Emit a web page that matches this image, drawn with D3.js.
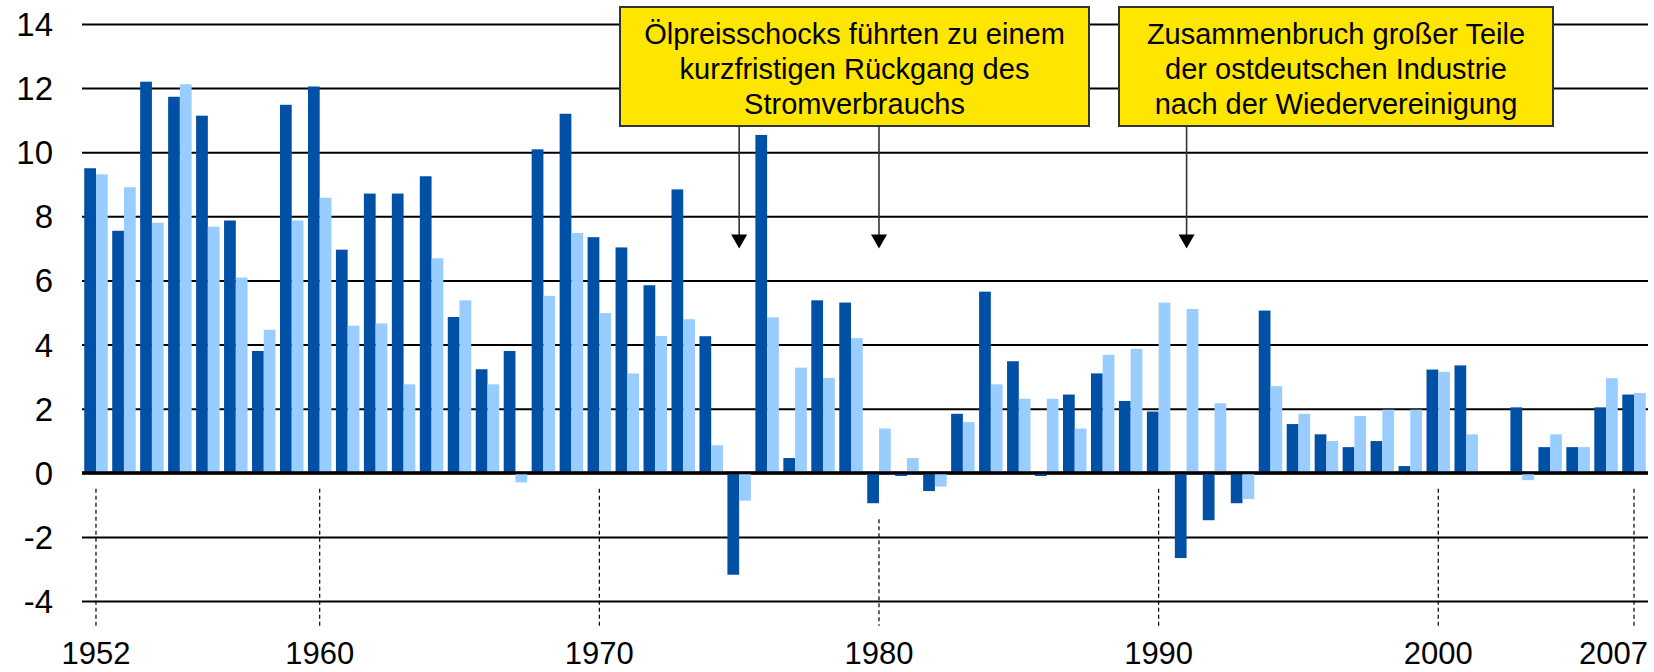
<!DOCTYPE html>
<html>
<head>
<meta charset="utf-8">
<script src="https://cdn.jsdelivr.net/npm/d3@7"></script>
<style>
  html, body { margin: 0; padding: 0; background: #fff; }
  svg { display: block; }
  text { font-family: "Liberation Sans", Arial, sans-serif; fill: #000; }
</style>
</head>
<body>
<svg id="chart" width="1654" height="672"></svg>
<script>
// ---------- DATA ----------
const years = [1952,1953,1954,1955,1956,1957,1958,1959,1960,1961,1962,1963,1964,1965,1966,1967,1968,1969,1970,1971,1972,1973,1974,1975,1976,1977,1978,1979,1980,1981,1982,1983,1984,1985,1986,1987,1988,1989,1990,1991,1992,1993,1994,1995,1996,1997,1998,1999,2000,2001,2002,2003,2004,2005,2006,2007];
const seriesDark = [9.50,7.55,12.20,11.73,11.14,7.87,3.80,11.48,12.05,6.96,8.71,8.71,9.25,4.86,3.23,3.80,10.09,11.20,7.35,7.03,5.85,8.84,4.26,-3.18,10.54,0.46,5.38,5.31,-0.95,-0.10,-0.57,1.84,5.65,3.48,-0.10,2.44,3.10,2.24,1.91,-2.66,-1.48,-0.95,5.06,1.52,1.20,0.80,0.99,0.21,3.22,3.35,0,2.04,0.80,0.80,2.04,2.44];
const seriesLight = [9.31,8.91,7.80,12.12,7.68,6.09,4.46,7.87,8.58,4.59,4.66,2.76,6.69,5.38,2.76,-0.30,5.52,7.48,4.98,3.10,4.27,4.79,0.86,-0.87,4.85,3.28,2.96,4.20,1.38,0.46,-0.43,1.58,2.76,2.31,2.31,1.38,3.68,3.87,5.31,5.11,2.17,-0.82,2.70,1.84,0.99,1.77,1.97,1.97,3.15,1.20,0,-0.23,1.20,0.80,2.95,2.49];
const yTicks = [-4,-2,0,2,4,6,8,10,12,14];
const yTickLabels = ["-4","-2","0","2","4","6","8","10","12","14"];
const xTickYears = [1952,1960,1970,1980,1990,2000,2007];
const annoText1 = ["Ölpreisschocks führten zu einem","kurzfristigen Rückgang des","Stromverbrauchs"];
const annoArrows1 = [1975,1980];
const annoText2 = ["Zusammenbruch großer Teile","der ostdeutschen Industrie","nach der Wiedervereinigung"];
const annoArrows2 = [1991];
const arrowTipValue = 7;

// ---------- LAYOUT ----------
const W = 1654, H = 672;
const plotLeft = 82, plotRight = 1648;
const svg = d3.select("#chart");

const x0 = d3.scaleBand().domain(years).range([plotLeft, plotRight]).paddingInner(0.16).paddingOuter(0.08);
const x1 = d3.scaleBand().domain(["dark","light"]).range([0, x0.bandwidth()]);
const y = d3.scaleLinear().domain([-4, 14]).range([601, 24]);
const colors = { dark: "#0050A5", light: "#99CCFF" };
const center = yr => x0(yr) + x0.bandwidth() / 2;

// grid lines + y labels
const yAxis = d3.axisLeft(y).tickValues(yTicks).tickSize(-(plotRight - plotLeft)).tickPadding(29)
  .tickFormat((d, i) => yTickLabels[i]);
const gy = svg.append("g").attr("transform", `translate(${plotLeft},0)`).call(yAxis);
gy.select(".domain").remove();
gy.selectAll(".tick line").attr("stroke", "#000").attr("stroke-width", d => d === 0 ? 3 : 2);
gy.selectAll(".tick text").attr("font-size", 33).attr("font-family", "Liberation Sans, Arial, sans-serif").attr("fill", "#000")
  .attr("dy", null).attr("dominant-baseline", "central");

// dashed year markers
const rows = years.map((yr, i) => ({ year: yr, dark: seriesDark[i], light: seriesLight[i] }));
const minAt = yr => { const r = rows.find(d => d.year === yr); return Math.min(0, r.dark, r.light); };
svg.append("g").selectAll("line").data(xTickYears).join("line")
  .attr("x1", d => center(d)).attr("x2", d => center(d))
  .attr("y1", d => y(minAt(d) - 0.5)).attr("y2", y(-4.77))
  .attr("stroke", "#000").attr("stroke-width", 1.2).attr("stroke-dasharray", "4,3");

// year labels
svg.append("g").selectAll("text").data(xTickYears).join("text")
  .attr("x", (d, i) => i === xTickYears.length - 1 ? plotRight : center(d))
  .attr("y", 664)
  .attr("text-anchor", (d, i) => i === xTickYears.length - 1 ? "end" : "middle")
  .attr("font-size", 31)
  .text(d => d);

// bars
const g = svg.append("g");
g.selectAll("g").data(rows).join("g")
  .attr("transform", d => `translate(${x0(d.year)},0)`)
  .selectAll("rect")
  .data(d => ["dark", "light"].map(k => ({ key: k, value: d[k] })))
  .join("rect")
  .attr("x", d => x1(d.key))
  .attr("width", x1.bandwidth())
  .attr("y", d => y(Math.max(0, d.value)))
  .attr("height", d => Math.abs(y(d.value) - y(0)))
  .attr("fill", d => colors[d.key]);

// redraw zero line on top
svg.append("line").attr("x1", plotLeft).attr("x2", plotRight).attr("y1", y(0)).attr("y2", y(0))
  .attr("stroke", "#000").attr("stroke-width", 3);

// annotations
function annotation(lines, arrows, bx0, bx1) {
  const top = 7, bottom = 126;
  const ga = svg.append("g");
  arrows.forEach(yr => {
    const cx = center(yr), tip = y(arrowTipValue);
    ga.append("line").attr("x1", cx).attr("x2", cx).attr("y1", bottom).attr("y2", tip - 13)
      .attr("stroke", "#333").attr("stroke-width", 1.6);
    ga.append("path").attr("d", `M${cx - 8},${tip - 14} L${cx + 8},${tip - 14} L${cx},${tip} Z`).attr("fill", "#000");
  });
  ga.append("rect").attr("x", bx0).attr("y", top).attr("width", bx1 - bx0).attr("height", bottom - top)
    .attr("fill", "#FFE600").attr("stroke", "#333").attr("stroke-width", 2);
  ga.selectAll("text").data(lines).join("text")
    .attr("x", (bx0 + bx1) / 2).attr("y", (d, i) => 43.5 + i * 35.3)
    .attr("text-anchor", "middle").attr("font-size", 29).text(d => d);
}
annotation(annoText1, annoArrows1, 620, 1089);
annotation(annoText2, annoArrows2, 1119, 1553);
</script>
</body>
</html>
